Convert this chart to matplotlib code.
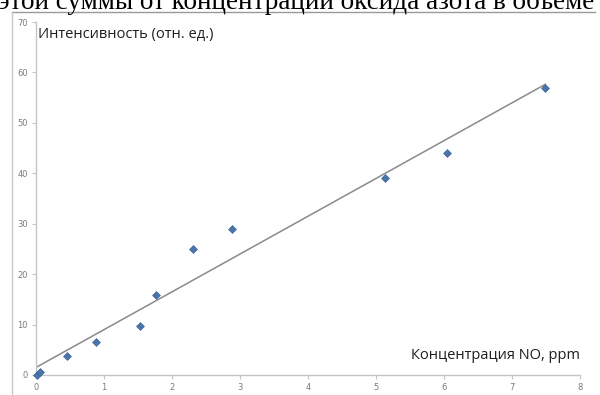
import numpy as np
import matplotlib
matplotlib.use("Agg")
import matplotlib.pyplot as plt
from matplotlib.lines import Line2D

# NO concentration (ppm) and measured intensity (relative units)
concentration = [0.02, 0.06, 0.45, 0.88, 1.53, 1.76, 2.31, 2.88, 5.13, 6.04, 7.49]
intensity = [0.0, 0.6, 3.8, 6.5, 9.7, 15.9, 25.0, 29.0, 39.0, 44.0, 57.0]

x_ticks = [0, 1, 2, 3, 4, 5, 6, 7, 8]
y_ticks = [0, 10, 20, 30, 40, 50, 60, 70]

y_label = "Интенсивность (отн. ед.)"
x_label = "Концентрация NO, ppm"
caption = "этой суммы от концентрации оксида азота в объеме"

W, H = 600, 395
fig = plt.figure(figsize=(W / 100, H / 100), dpi=100)
fig.patch.set_facecolor("white")

ax = fig.add_axes([36 / W, 1 - 375 / H, (580 - 36) / W, (375 - 22) / H])
ax.set_xlim(0, 8)
ax.set_ylim(0, 70)

# linear trend line
slope, intercept = np.polyfit(concentration, intensity, 1)
xf = np.array([0.0, max(concentration)])
ax.plot(xf, slope * xf + intercept, color="#8a8a8a", lw=1.1, zorder=2)

ax.scatter(concentration, intensity, marker="D", s=16, color="#4a74ac",
           edgecolor="#3f6699", linewidth=0.5, zorder=3, clip_on=False)

for s in ["top", "right"]:
    ax.spines[s].set_visible(False)
for s in ["left", "bottom"]:
    ax.spines[s].set_color("#c4c4c4")
    ax.spines[s].set_linewidth(1.0)

ax.set_xticks(x_ticks)
ax.set_yticks(y_ticks)
ax.tick_params(axis="both", colors="#c4c4c4", labelcolor="#7a7a7a",
               labelsize=6, length=3, width=0.8, direction="out")
ax.tick_params(axis="x", pad=3)
ax.tick_params(axis="y", pad=3)

ax.text(0.004, 0.985, y_label, transform=ax.transAxes, ha="left", va="top",
        fontsize=10.5, family="Open Sans", weight="medium", color="#1e1e1e")
ax.text(1.0, 0.035, x_label, transform=ax.transAxes, ha="right", va="bottom",
        fontsize=10.5, family="Open Sans", weight="medium", color="#1e1e1e")

# surrounding page frame and the line of text running above it
fig.add_artist(Line2D([12 / W, 595 / W], [1 - 12 / H, 1 - 12 / H],
                      transform=fig.transFigure, color="#9a9a9a", lw=1.0))
fig.add_artist(Line2D([12 / W, 12 / W], [0, 1 - 12 / H],
                      transform=fig.transFigure, color="#c8c8c8", lw=1.0))
fig.text(-2 / W, 1 - 9 / H, caption, ha="left", va="baseline",
         fontsize=19.5, family="Liberation Serif", color="black")

fig.savefig("out.png", dpi=100, facecolor="white")
